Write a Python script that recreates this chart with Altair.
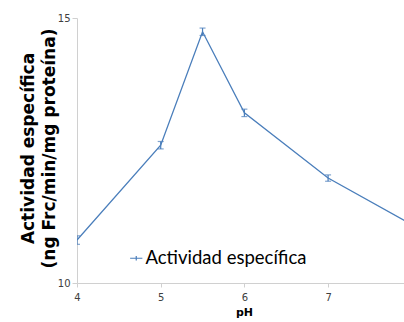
import altair as alt
import pandas as pd

ph = [4, 5, 5.5, 6, 7, 8]
actividad = [10.81, 12.60, 14.74, 13.21, 11.98, 11.10]
error = [0.08, 0.07, 0.07, 0.07, 0.06, 0.05]
serie = "Actividad específica"

df = pd.DataFrame({"ph": ph, "act": actividad, "err": error})
df["lo"] = df["act"] - df["err"]
df["hi"] = df["act"] + df["err"]
df["serie"] = serie

BLUE = "#4a7ebb"
xs = alt.Scale(domain=[4, 7.907], nice=False, zero=False)
ys = alt.Scale(domain=[10, 15], nice=False, zero=False)

base = alt.Chart(df)

line = base.mark_line(strokeWidth=1.3, clip=True).encode(
    x=alt.X("ph:Q", scale=xs, axis=alt.Axis(
        values=[4, 5, 6, 7], format="d", labelFlush=False, title="pH", grid=False, tickSize=4,
        labelPadding=5, titlePadding=4, titleX=167, titleFontWeight="bold",
        titleFontSize=11, titleFont="DejaVu Sans")),
    y=alt.Y("act:Q", scale=ys, axis=alt.Axis(
        values=[10, 15], format="d", labelFlush=False, grid=False, tickSize=5, labelPadding=2,
        title=["Actividad específica", "(ng Frc/min/mg proteína)"],
        titleFontSize=17, titleFontWeight="bold", titleFont="DejaVu Sans",
        titleLineHeight=21, titleAngle=-90, titleBaseline="middle",
        titleAlign="center", titleX=-49, titleY=130)),
    color=alt.Color("serie:N", scale=alt.Scale(range=[BLUE]), legend=alt.Legend(
        title=None, orient="none", legendX=50, legendY=231,
        symbolType="M-1,0H1M0,-0.35V0.35", symbolSize=150,
        symbolStrokeWidth=1.2, symbolStrokeColor=BLUE, symbolFillColor="transparent",
        labelFont="Lato", labelFontSize=18.5, labelColor="#000000", labelOffset=0,
        labelLimit=400)),
)

bars = base.mark_rule(strokeWidth=1.2, color=BLUE, clip=True).encode(
    x=alt.X("ph:Q", scale=xs), y=alt.Y("lo:Q", scale=ys), y2="hi:Q")
caps_lo = base.mark_tick(orient="horizontal", size=6, thickness=1.2, color=BLUE, clip=True).encode(
    x=alt.X("ph:Q", scale=xs), y=alt.Y("lo:Q", scale=ys))
caps_hi = base.mark_tick(orient="horizontal", size=6, thickness=1.2, color=BLUE, clip=True).encode(
    x=alt.X("ph:Q", scale=xs), y=alt.Y("hi:Q", scale=ys))

chart = alt.layer(line, bars, caps_lo, caps_hi).properties(
    width=327, height=265,
    autosize=alt.AutoSizeParams(type="none"),
    padding={"left": 77, "top": 18, "right": 0, "bottom": 39},
    background="white",
).configure_view(stroke=None).configure_axis(
    domainColor="#d0d0d0", tickColor="#d0d0d0", labelColor="#404040",
    labelFont="DejaVu Sans", labelFontSize=10, titleColor="#000000",
)

chart.save("out.html", embed_options={"renderer": "svg", "actions": False})
